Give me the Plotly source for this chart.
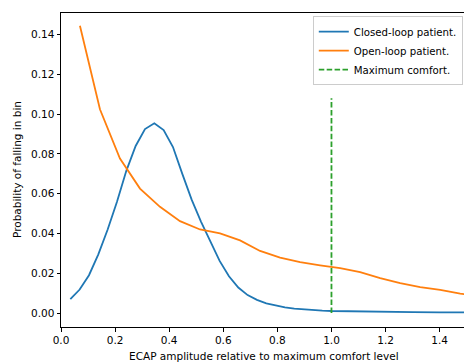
import plotly.graph_objects as go

closed_x = [0.0345, 0.069, 0.1035, 0.138, 0.1725, 0.207, 0.2415, 0.276, 0.3105, 0.345,
            0.3795, 0.414, 0.4485, 0.483, 0.5175, 0.552, 0.5865, 0.621, 0.6555, 0.69,
            0.7245, 0.759, 0.7935, 0.828, 0.8625, 0.897, 0.9315, 0.966, 1.0005, 1.035,
            1.1, 1.2, 1.3, 1.4, 1.5]
closed_y = [0.0070, 0.0118, 0.0190, 0.0295, 0.0420, 0.0560, 0.0715, 0.0840, 0.0925, 0.0954,
            0.0920, 0.0835, 0.0700, 0.0570, 0.0460, 0.0360, 0.0262, 0.0185, 0.0128, 0.0090,
            0.0066, 0.0049, 0.0037, 0.0028, 0.0022, 0.0018, 0.0015, 0.0012, 0.0010, 0.0009,
            0.0007, 0.0005, 0.0004, 0.0003, 0.0003]

open_x = [0.070, 0.144, 0.218, 0.292, 0.366, 0.440, 0.514, 0.588, 0.662, 0.736, 0.810,
          0.884, 0.958, 1.032, 1.106, 1.180, 1.254, 1.328, 1.402, 1.476, 1.550]
open_y = [0.1445, 0.1025, 0.0777, 0.0626, 0.0534, 0.0462, 0.0420, 0.0400, 0.0365, 0.0312, 0.0279,
          0.0256, 0.0240, 0.0226, 0.0206, 0.0175, 0.0150, 0.0130, 0.0116, 0.0097, 0.0086]

comfort_x = [1.0, 1.0]
comfort_y = [0.0, 0.108]

x_ticks = [0.0, 0.2, 0.4, 0.6, 0.8, 1.0, 1.2, 1.4]
y_ticks = [0.00, 0.02, 0.04, 0.06, 0.08, 0.10, 0.12, 0.14]

FONT = "DejaVu Sans"

fig = go.Figure()
fig.add_trace(go.Scatter(x=closed_x, y=closed_y, mode="lines", name="Closed-loop patient.",
                         line=dict(color="#1f77b4", width=1.8)))
fig.add_trace(go.Scatter(x=open_x, y=open_y, mode="lines", name="Open-loop patient.",
                         line=dict(color="#ff7f0e", width=1.8)))
fig.add_trace(go.Scatter(x=comfort_x, y=comfort_y, mode="lines", name="Maximum comfort.",
                         line=dict(color="#2ca02c", width=1.8, dash="5.5px,2.4px")))

fig.update_layout(
    width=464, height=362,
    margin=dict(l=61, r=0, t=13, b=35),
    paper_bgcolor="white", plot_bgcolor="white",
    font=dict(family=FONT, size=10, color="#000000"),
    showlegend=True,
    legend=dict(x=0.997, y=0.99, xanchor="right", yanchor="top",
                bordercolor="#cccccc", borderwidth=1, bgcolor="rgba(255,255,255,0.8)",
                font=dict(family=FONT, size=10.2, color="#000000"),
                itemwidth=30, tracegroupgap=0),
    xaxis=dict(range=[0, 1.49], tickvals=x_ticks, ticktext=[f"{v:.1f}" for v in x_ticks],
               showgrid=False, zeroline=False, showline=True, linecolor="#000000", linewidth=1,
               mirror=True, ticks="outside", ticklen=3.5, tickwidth=0.8, tickcolor="#000000",
               tickfont=dict(family=FONT, size=10.5)),
    yaxis=dict(range=[-0.00704, 0.1509], tickvals=y_ticks, ticktext=[f"{v:.2f}" for v in y_ticks],
               showgrid=False, zeroline=False, showline=True, linecolor="#000000", linewidth=1,
               ticks="outside", ticklen=3.5, tickwidth=0.8, tickcolor="#000000",
               tickfont=dict(family=FONT, size=10.5)),
    annotations=[
        dict(text="ECAP amplitude relative to maximum comfort level", xref="paper", yref="paper",
             x=(264 - 61) / 403, y=0, xanchor="center", yanchor="middle", yshift=-(356 - 326.7),
             showarrow=False, font=dict(family=FONT, size=10.5, color="#000000")),
        dict(text="Probability of falling in bin", xref="paper", yref="paper",
             x=0, y=0.5, xanchor="center", yanchor="middle", xshift=-(61 - 17), textangle=-90,
             showarrow=False, font=dict(family=FONT, size=10.5, color="#000000")),
    ],
)

fig.write_html("out.html", config={"displayModeBar": False},
               post_script="document.body.style.margin='0';document.body.style.padding='0';document.body.style.overflow='hidden';")
